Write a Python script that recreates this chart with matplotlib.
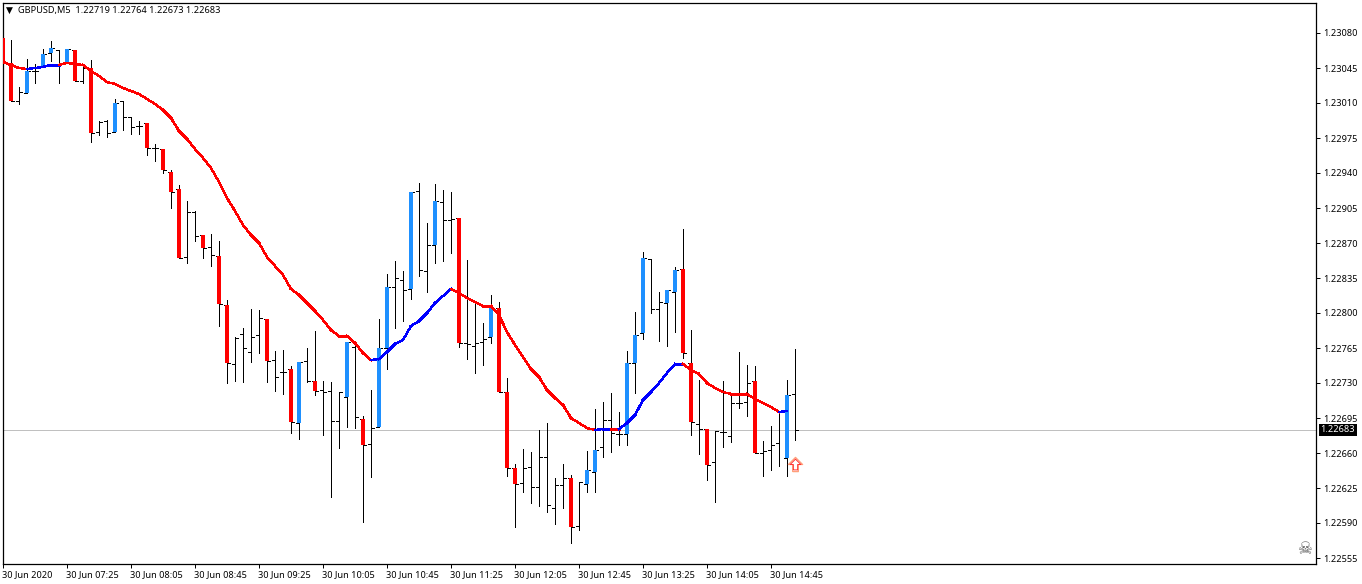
import matplotlib
matplotlib.use("Agg")
import matplotlib.pyplot as plt
from matplotlib.path import Path
from matplotlib.transforms import ScaledTranslation

header = "GBPUSD,M5  1.22719 1.22764 1.22673 1.22683"
time_labels = ["30 Jun 2020", "30 Jun 07:25", "30 Jun 08:05", "30 Jun 08:45", "30 Jun 09:25",
               "30 Jun 10:05", "30 Jun 10:45", "30 Jun 11:25", "30 Jun 12:05", "30 Jun 12:45",
               "30 Jun 13:25", "30 Jun 14:05", "30 Jun 14:45"]
price_ticks = [1.23080, 1.23045, 1.23010, 1.22975, 1.22940, 1.22905, 1.22870, 1.22835,
               1.22800, 1.22765, 1.22730, 1.22695, 1.22660, 1.22625, 1.22590, 1.22555]
last_price = 1.22683
signal_bar = 99
signal_price = 1.22649

open_p = [1.23075, 1.23050, 1.23012, 1.23020, 1.23042, 1.23047, 1.23060, 1.23063, 1.23051, 1.23063,
          1.23032, 1.23045, 1.22981, 1.22992, 1.22981, 1.23012, 1.22996, 1.22987, 1.22990, 1.22965,
          1.22964, 1.22941, 1.22924, 1.22856, 1.22901, 1.22878, 1.22866, 1.22857, 1.22808, 1.22749,
          1.22779, 1.22761, 1.22778, 1.22794, 1.22753, 1.22741, 1.22744, 1.22690, 1.22752, 1.22732,
          1.22723, 1.22722, 1.22692, 1.22716, 1.22766, 1.22694, 1.22669, 1.22686, 1.22765, 1.22826,
          1.22833, 1.22824, 1.22922, 1.22842, 1.22868, 1.22911, 1.22893, 1.22895, 1.22770, 1.22767,
          1.22771, 1.22776, 1.22805, 1.22721, 1.22645, 1.22630, 1.22646, 1.22626, 1.22656, 1.22605,
          1.22628, 1.22635, 1.22587, 1.22629, 1.22641, 1.22666, 1.22693, 1.22679, 1.22679, 1.22750,
          1.22780, 1.22854, 1.22804, 1.22810, 1.22821, 1.22844, 1.22750, 1.22689, 1.22684, 1.22651,
          1.22681, 1.22677, 1.22710, 1.22711, 1.22732, 1.22660, 1.22663, 1.22670, 1.22655, 1.22719]
high_p = [1.23075, 1.23073, 1.23026, 1.23054, 1.23049, 1.23064, 1.23072, 1.23063, 1.23064, 1.23063,
          1.23049, 1.23053, 1.22992, 1.22993, 1.23014, 1.23012, 1.22996, 1.22992, 1.22990, 1.22969,
          1.22964, 1.22943, 1.22928, 1.22912, 1.22902, 1.22878, 1.22879, 1.22872, 1.22813, 1.22776,
          1.22785, 1.22804, 1.22803, 1.22794, 1.22762, 1.22763, 1.22747, 1.22751, 1.22765, 1.22782,
          1.22732, 1.22731, 1.22721, 1.22771, 1.22768, 1.22697, 1.22723, 1.22794, 1.22839, 1.22852,
          1.22842, 1.22921, 1.22930, 1.22890, 1.22929, 1.22923, 1.22921, 1.22895, 1.22853, 1.22810,
          1.22790, 1.22818, 1.22811, 1.22735, 1.22649, 1.22664, 1.22661, 1.22683, 1.22690, 1.22635,
          1.22649, 1.22638, 1.22631, 1.22662, 1.22704, 1.22711, 1.22720, 1.22701, 1.22762, 1.22801,
          1.22861, 1.22854, 1.22821, 1.22823, 1.22846, 1.22884, 1.22783, 1.22733, 1.22684, 1.22682,
          1.22732, 1.22719, 1.22761, 1.22748, 1.22747, 1.22672, 1.22687, 1.22701, 1.22733, 1.22764]
low_p = [1.23050, 1.23012, 1.23009, 1.23020, 1.23030, 1.23047, 1.23052, 1.23030, 1.23051, 1.23032,
         1.23030, 1.22971, 1.22978, 1.22976, 1.22981, 1.22983, 1.22979, 1.22979, 1.22958, 1.22952,
         1.22940, 1.22905, 1.22855, 1.22850, 1.22872, 1.22855, 1.22847, 1.22787, 1.22730, 1.22732,
         1.22731, 1.22751, 1.22760, 1.22731, 1.22722, 1.22719, 1.22680, 1.22674, 1.22731, 1.22718,
         1.22678, 1.22616, 1.22665, 1.22686, 1.22685, 1.22591, 1.22636, 1.22686, 1.22744, 1.22785,
         1.22792, 1.22814, 1.22837, 1.22821, 1.22850, 1.22852, 1.22860, 1.22766, 1.22754, 1.22740,
         1.22748, 1.22770, 1.22721, 1.22637, 1.22586, 1.22621, 1.22610, 1.22607, 1.22601, 1.22589,
         1.22605, 1.22570, 1.22583, 1.22621, 1.22621, 1.22656, 1.22661, 1.22668, 1.22668, 1.22720,
         1.22774, 1.22800, 1.22772, 1.22767, 1.22781, 1.22755, 1.22678, 1.22659, 1.22633, 1.22611,
         1.22666, 1.22671, 1.22705, 1.22697, 1.22660, 1.22637, 1.22643, 1.22647, 1.22637, 1.22673]
close_p = [1.23050, 1.23012, 1.23021, 1.23042, 1.23042, 1.23059, 1.23065, 1.23050, 1.23064, 1.23032,
           1.23045, 1.22980, 1.22991, 1.22980, 1.23010, 1.22996, 1.22986, 1.22987, 1.22965, 1.22965,
           1.22943, 1.22921, 1.22855, 1.22901, 1.22877, 1.22865, 1.22858, 1.22809, 1.22750, 1.22775,
           1.22765, 1.22776, 1.22795, 1.22752, 1.22736, 1.22741, 1.22691, 1.22751, 1.22732, 1.22722,
           1.22721, 1.22692, 1.22721, 1.22771, 1.22696, 1.22668, 1.22685, 1.22765, 1.22826, 1.22835,
           1.22823, 1.22921, 1.22843, 1.22868, 1.22912, 1.22893, 1.22894, 1.22770, 1.22769, 1.22770,
           1.22774, 1.22805, 1.22721, 1.22645, 1.22629, 1.22645, 1.22626, 1.22656, 1.22608, 1.22628,
           1.22635, 1.22586, 1.22631, 1.22643, 1.22663, 1.22693, 1.22680, 1.22679, 1.22750, 1.22778,
           1.22855, 1.22804, 1.22811, 1.22823, 1.22843, 1.22760, 1.22691, 1.22684, 1.22648, 1.22682,
           1.22681, 1.22710, 1.22710, 1.22730, 1.22660, 1.22662, 1.22668, 1.22701, 1.22718, 1.22683]
ma = [1.23051, 1.23048, 1.23045, 1.23044, 1.23045, 1.23046, 1.23048, 1.23048, 1.23050, 1.23049,
      1.23048, 1.23042, 1.23037, 1.23031, 1.23029, 1.23025, 1.23022, 1.23019, 1.23014, 1.23009,
      1.23003, 1.22995, 1.22982, 1.22974, 1.22964, 1.22955, 1.22945, 1.22931, 1.22915, 1.22902,
      1.22888, 1.22878, 1.22870, 1.22856, 1.22847, 1.22838, 1.22824, 1.22818, 1.22810, 1.22802,
      1.22793, 1.22783, 1.22777, 1.22777, 1.22770, 1.22760, 1.22753, 1.22754, 1.22761, 1.22769,
      1.22773, 1.22787, 1.22792, 1.22800, 1.22810, 1.22817, 1.22824, 1.22820, 1.22815, 1.22811,
      1.22807, 1.22807, 1.22798, 1.22781, 1.22768, 1.22756, 1.22744, 1.22736, 1.22723, 1.22715,
      1.22708, 1.22695, 1.22690, 1.22685, 1.22683, 1.22684, 1.22684, 1.22684, 1.22690, 1.22698,
      1.22713, 1.22721, 1.22730, 1.22740, 1.22749, 1.22749, 1.22743, 1.22739, 1.22730, 1.22725,
      1.22721, 1.22719, 1.22719, 1.22719, 1.22714, 1.22710, 1.22706, 1.22701, 1.22702]

# bars the indicator paints thick
thick_up = [3, 5, 6, 8, 14, 37, 43, 47, 48, 51, 54, 61, 73, 74, 78, 79, 80, 83, 84, 98]
thick_down = [0, 1, 9, 11, 18, 20, 21, 22, 25, 27, 28, 33, 36, 39, 45, 57, 62, 63, 64, 71, 85, 86, 88, 94]
# stretches of the average drawn blue, the rest is red
ma_up_spans = [(3, 7), (46, 56), (74, 76), (77, 85), (97, 98)]

plt.rcParams['font.family'] = ['Noto Sans', 'DejaVu Sans']
W, H = 1362, 584
fig = plt.figure(figsize=(W / 100, H / 100), dpi=100)
ax = fig.add_axes([2.5 / W, (H - 563.5) / H, 1313.5 / W, 561 / H])
ax.set_xlim(-0.0625, 164.125)
ax.set_ylim(1.225495, 1.231105)

x = list(range(len(open_p)))

ax.axhline(last_price, color='#c0c0c0', lw=0.72, zorder=1, antialiased=False)

# black bars with open and close ticks
ax.vlines(x, low_p, high_p, color='black', lw=0.7, zorder=2, antialiased=False)
ax.hlines(open_p, [i - 0.375 for i in x], x, color='black', lw=0.7, zorder=2, antialiased=False)
ax.hlines(close_p, x, [i + 0.375 for i in x], color='black', lw=0.7, zorder=2, antialiased=False)

for i in thick_up:
    ax.vlines(i, open_p[i], close_p[i], color='#1e90ff', lw=2.85, zorder=3, antialiased=False)
for i in thick_down:
    ax.vlines(i, open_p[i], close_p[i], color='#ff0000', lw=2.85, zorder=3, antialiased=False)

# moving average, one segment at a time so it can change colour
for i in range(len(ma) - 1):
    up = any(a <= i < b for a, b in ma_up_spans)
    ax.plot([i, i + 1], [ma[i], ma[i + 1]], color='#0000ff' if up else '#ff0000',
            lw=1.05, zorder=4, antialiased=False)

# hollow up arrow under the last bar, pink outside and red inside
arrow = Path([(-0.2, -0.5), (0.2, -0.5), (0.2, 0), (0.5, 0), (0, 0.5), (-0.5, 0), (-0.2, 0), (-0.2, -0.5)])
ax.scatter([signal_bar], [signal_price], marker=arrow, s=105, facecolor='white',
           edgecolor='#ffa07a', linewidth=0.9, zorder=5)
ax.scatter([signal_bar], [signal_price], marker=arrow, s=60, facecolor='white',
           edgecolor='#ff3030', linewidth=0.7, zorder=6)

ax.set_xticks(range(0, 8 * len(time_labels), 8))
ax.set_xticklabels(time_labels, ha='left', fontsize=6.6)
ax.tick_params(axis='x', length=3, width=0.72, pad=1.5, color='black')
shift = ScaledTranslation(-1.5 / 100, 0, fig.dpi_scale_trans)
for lab in ax.get_xticklabels():
    lab.set_transform(lab.get_transform() + shift)

ax.yaxis.tick_right()
ax.set_yticks(price_ticks)
ax.set_yticklabels([f"{p:.5f}" for p in price_ticks], fontsize=6.6)
ax.tick_params(axis='y', length=3, width=0.72, pad=2.5, color='black')

for s in ax.spines.values():
    s.set_linewidth(0.9)
    s.set_color('black')

# current price flag on the price scale
ax.annotate(f"{last_price:.5f}", xy=(1.0034, last_price), xycoords=ax.get_yaxis_transform(),
            va='center', ha='left', color='white', fontsize=6.6, annotation_clip=False,
            bbox=dict(boxstyle='square,pad=0.2', facecolor='black', edgecolor='black', lw=0))

fig.text(6 / W, 1 - 10.5 / H, "\u25bc", fontsize=6.5, color='black', va='center', ha='left',
         family=['DejaVu Sans'])
fig.text(18 / W, 1 - 11 / H, header, fontsize=6.6, color='black', va='center', ha='left')
fig.text(1305 / W, 1 - 549.5 / H, "\u2620", fontsize=12, color='#606060', va='center', ha='center',
         family=['DejaVu Sans'])

fig.savefig("out.png", dpi=100)
